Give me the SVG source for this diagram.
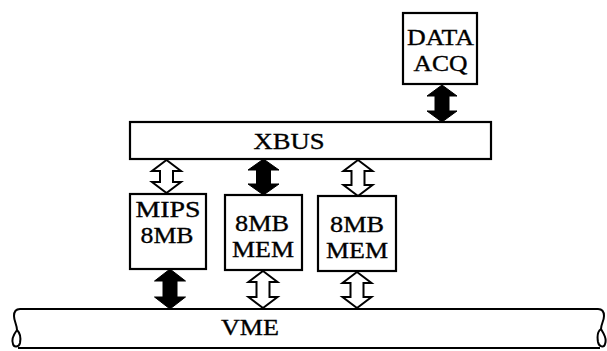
<svg xmlns="http://www.w3.org/2000/svg" width="607" height="351" viewBox="0 0 607 351">
<style>
.box{fill:#fff;stroke:#000;stroke-width:2.2}
.lbl{font-family:"Liberation Serif","DejaVu Serif","Times New Roman",serif;font-size:23px;fill:#000;stroke:#000;stroke-width:0.35;text-anchor:middle}
.solid{fill:#000;stroke:#000;stroke-width:1}
.hollow{fill:#fff;stroke:#000;stroke-width:2}
.bus{fill:none;stroke:#000;stroke-width:2}
</style>
<rect width="607" height="351" fill="#fff"/>
<g id="connectors">
<polygon class="solid" points="442,85 457,96 449,96 449,111 457,111 442,122 427,111 435,111 435,96 427,96"/>
<polygon class="hollow" points="166.5,160 181,171 173,171 173,182 181,182 166.5,193 152,182 160,182 160,171 152,171"/>
<polygon class="solid" points="263.5,159 279,170 270.5,170 270.5,184 279,184 263.5,195 248,184 256.5,184 256.5,170 248,170"/>
<polygon class="hollow" points="358,160 372.5,171 364.5,171 364.5,185 372.5,185 358,196 343.5,185 351.5,185 351.5,171 343.5,171"/>
<polygon class="solid" points="170,269 185.5,281 177,281 177,297 185.5,297 170,309 154.5,297 163,297 163,281 154.5,281"/>
<polygon class="hollow" points="263,271 277.5,282 269.5,282 269.5,297 277.5,297 263,308 248.5,297 256.5,297 256.5,282 248.5,282"/>
<polygon class="hollow" points="357,272 371.5,283 363.5,283 363.5,297 371.5,297 357,308 342.5,297 350.5,297 350.5,283 342.5,283"/>
</g>
<g id="vme">
<path class="bus" d="M20,309 H598 C602,309 604,311 604,316 C604,321 601,324 601,329"/>
<path class="bus" d="M601,329 C598,331 597,336 598,342 C599,347 604,348 605,344 C607,339 604,334 601,329"/>
<path class="bus" d="M20,309 C16,309 14,311 14,316 C14,321 17,325 17,330"/>
<path class="bus" d="M17,330 C20,333 21,338 20,343 C19,347 14,348 13,344 C11,339 14,334 17,330"/>
<path class="bus" d="M18,348 H600"/>
<text class="lbl" x="250" y="335" textLength="58" lengthAdjust="spacingAndGlyphs">VME</text>
</g>
<g id="xbus">
<rect class="box" x="130" y="122" width="361" height="37"/>
<text class="lbl" x="289" y="149" textLength="71" lengthAdjust="spacingAndGlyphs">XBUS</text>
</g>
<g id="dataacq">
<rect class="box" x="403" y="13" width="74" height="71"/>
<text class="lbl" x="440.5" y="45" textLength="67" lengthAdjust="spacingAndGlyphs">DATA</text>
<text class="lbl" x="440.5" y="71" textLength="54" lengthAdjust="spacingAndGlyphs">ACQ</text>
</g>
<g id="mips">
<rect class="box" x="130" y="194" width="76" height="75"/>
<text class="lbl" x="168" y="217" textLength="65" lengthAdjust="spacingAndGlyphs">MIPS</text>
<text class="lbl" x="167" y="243" textLength="53" lengthAdjust="spacingAndGlyphs">8MB</text>
</g>
<g id="mem1">
<rect class="box" x="225" y="195" width="77" height="75"/>
<text class="lbl" x="262" y="231" textLength="54" lengthAdjust="spacingAndGlyphs">8MB</text>
<text class="lbl" x="263" y="257" textLength="62" lengthAdjust="spacingAndGlyphs">MEM</text>
</g>
<g id="mem2">
<rect class="box" x="318" y="196" width="78" height="75"/>
<text class="lbl" x="357" y="232" textLength="54" lengthAdjust="spacingAndGlyphs">8MB</text>
<text class="lbl" x="357" y="258" textLength="62" lengthAdjust="spacingAndGlyphs">MEM</text>
</g>
</svg>
